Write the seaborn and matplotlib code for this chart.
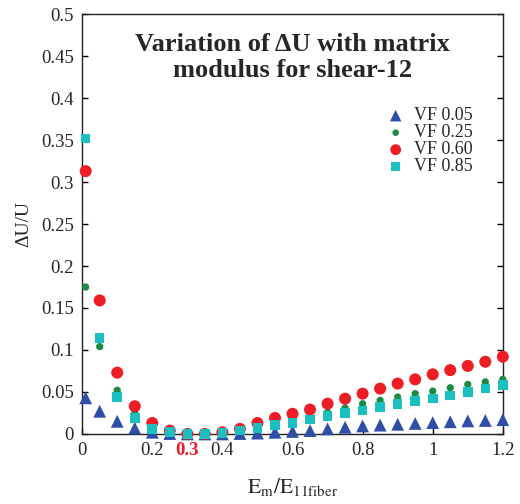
import numpy as np
import pandas as pd
import seaborn as sns
import matplotlib
matplotlib.use("Agg")
import matplotlib.pyplot as plt
from matplotlib.ticker import FuncFormatter

# ratio of matrix modulus to fiber modulus
em_ratio = [0.01, 0.05, 0.1, 0.15, 0.2, 0.25, 0.3, 0.35, 0.4, 0.45, 0.5, 0.55, 0.6,
            0.65, 0.7, 0.75, 0.8, 0.85, 0.9, 0.95, 1.0, 1.05, 1.1, 1.15, 1.2]

vf_005 = [0.043, 0.027, 0.015, 0.007, 0.002, 0.0005, 0.0, 0.0, 0.0, 0.0005, 0.001, 0.002, 0.003,
          0.004, 0.006, 0.008, 0.0095, 0.0105, 0.0115, 0.0125, 0.0135, 0.0145, 0.0155, 0.016, 0.017]
vf_025 = [0.175, 0.104, 0.052, 0.025, 0.009, 0.002, 0.0, 0.0, 0.001, 0.004, 0.008, 0.012, 0.016,
          0.02, 0.026, 0.031, 0.036, 0.04, 0.044, 0.048, 0.051, 0.055, 0.059, 0.062, 0.065]
vf_060 = [0.313, 0.159, 0.073, 0.033, 0.013, 0.004, 0.0, 0.0, 0.002, 0.006, 0.013, 0.019, 0.024,
          0.029, 0.036, 0.042, 0.048, 0.054, 0.06, 0.065, 0.071, 0.076, 0.081, 0.086, 0.092]
vf_085 = [0.352, 0.114, 0.044, 0.019, 0.006, 0.002, 0.0, 0.0, 0.001, 0.004, 0.007, 0.0105, 0.013,
          0.017, 0.021, 0.025, 0.028, 0.032, 0.036, 0.039, 0.042, 0.046, 0.05, 0.054, 0.058]

labels = ["VF 0.05", "VF 0.25", "VF 0.60", "VF 0.85"]

df = pd.DataFrame({
    "x": em_ratio * 4,
    "y": vf_005 + vf_025 + vf_060 + vf_085,
    "vf": sum([[l] * len(em_ratio) for l in labels], []),
})

sns.set_theme(style="white")
plt.rcParams['font.family'] = ['Liberation Serif', 'DejaVu Serif']
plt.rcParams['mathtext.fontset'] = 'stix'

colors = {"VF 0.05": "#2f4fa6", "VF 0.25": "#1b8a45", "VF 0.60": "#ee1c25", "VF 0.85": "#1cbfbf"}
markers = {"VF 0.05": "^", "VF 0.25": "8", "VF 0.60": "o", "VF 0.85": "s"}
sizes = {"VF 0.05": 85, "VF 0.25": 30, "VF 0.60": 75, "VF 0.85": 48}

fig = plt.figure(figsize=(5.2, 5.04), dpi=100)
ax = fig.add_axes([0.158, 0.139, 0.809, 0.833])

for lab in labels:
    sub = df[df["vf"] == lab]
    sns.scatterplot(data=sub, x="x", y="y", ax=ax, color=colors[lab], marker=markers[lab],
                    s=sizes[lab], edgecolor="none", label=lab, clip_on=False, zorder=3)

ax.set_xlim(0, 1.2)
ax.set_ylim(0, 0.5)
ax.set_xticks([0, 0.2, 0.3, 0.4, 0.6, 0.8, 1.0, 1.2])
ax.set_yticks(np.arange(0, 0.51, 0.05))
fmt = FuncFormatter(lambda v, p: "%g" % round(v, 3))
ax.xaxis.set_major_formatter(fmt)
ax.yaxis.set_major_formatter(fmt)
ax.tick_params(axis="both", direction="in", length=4, width=1, color="black",
               labelsize=13.5, pad=6, left=True, right=True, bottom=True, top=False)
for t in ax.get_xticklabels():
    if t.get_text() == "0.3":
        t.set_color("#ee1c25")
        t.set_fontweight("bold")

for sp in ax.spines.values():
    sp.set_color("#222222")
    sp.set_linewidth(1.0)

ax.set_xlabel(r"$\mathrm{E_m/E_{11fiber}}$", fontsize=15.5, labelpad=12)
ax.set_ylabel("ΔU/U", fontsize=14, labelpad=6)

ax.text(0.6, 0.4775, "Variation of ΔU with matrix\nmodulus for shear-12",
        ha="center", va="top", fontsize=19, fontweight="bold", linespacing=1.15)

leg = ax.legend(loc="upper right", bbox_to_anchor=(0.945, 0.795), frameon=False,
                fontsize=13, handletextpad=0.0, labelspacing=0.0, borderaxespad=0,
                markerscale=0.9)

fig.savefig("out.png", dpi=100)
